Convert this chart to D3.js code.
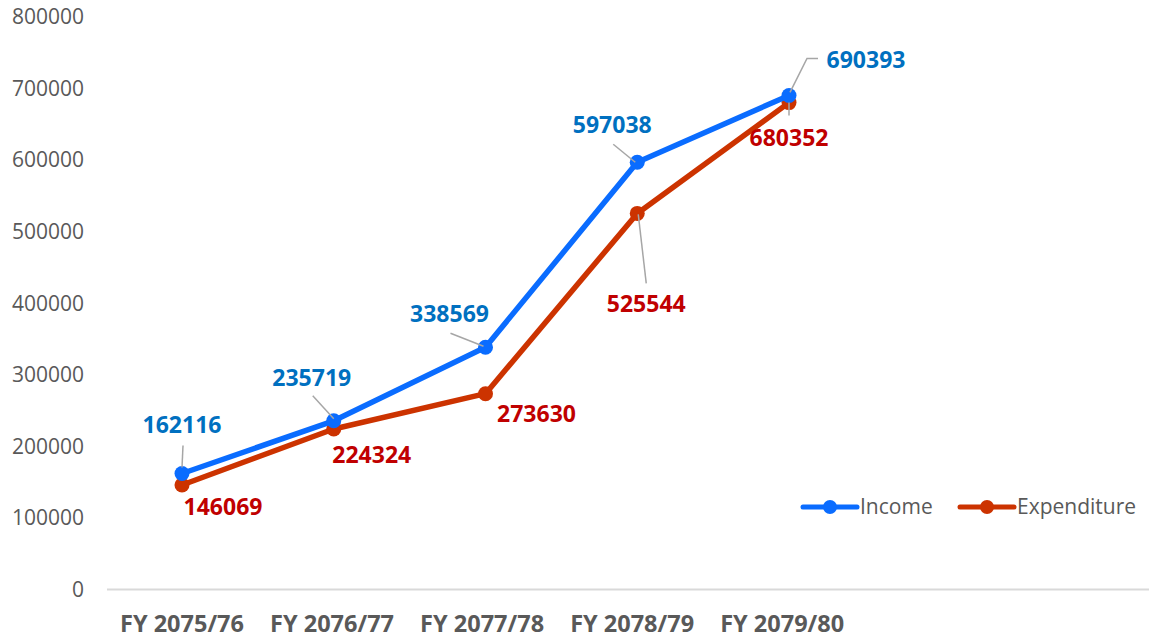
<!DOCTYPE html>
<html>
<head>
<meta charset="utf-8">
<script src="https://cdn.jsdelivr.net/npm/d3@7"></script>
<style>
  body { margin: 0; background: #fff; }
  svg { display: block; font-family: "Open Sans", sans-serif; }
</style>
</head>
<body>
<svg id="chart" width="1149" height="641"></svg>
<script>
// data
const years = ["FY 2075/76", "FY 2076/77", "FY 2077/78", "FY 2078/79", "FY 2079/80"];
const income = [162116, 235719, 338569, 597038, 690393];
const expenditure = [146069, 224324, 273630, 525544, 680352];
const yTicks = [0, 100000, 200000, 300000, 400000, 500000, 600000, 700000, 800000];

// where each value label sits, relative to its point (dx, dy of text centre)
const incomeLabelPos = [[0, -49], [-22, -43], [-36, -33], [-25, -37], [77, -35]];
const expLabelPos = [[41, 22], [38, 26], [51, 20], [9, 91], [0, 35]];
// leader lines, relative to the point (null = none)
const incomeLeaders = [[[1, -28], [0, -6]], [[-21, -25], [0, -2]], [[-35, -14], [-2, -1]], [[-24, -18], [-2, 0]], [[29, -37], [18, -37], [1, -3]]];
const expLeaders = [null, null, null, [[1, 1], [9, 70]], [[0, 0], [0, 13]]];

const svg = d3.select('#chart');

const x = d3.scalePoint()
    .domain(years)
    .range([182, 789]);

const y = d3.scaleLinear()
    .domain([0, 800000])
    .range([589.5, 17]);

// baseline
svg.append('line')
    .attr('x1', 107).attr('x2', 1149)
    .attr('y1', y(0)).attr('y2', y(0))
    .attr('stroke', '#d9d9d9')
    .attr('stroke-width', 2);

// y tick labels
svg.append('g')
    .selectAll('text')
    .data(yTicks)
    .join('text')
    .attr('x', 84)
    .attr('y', d => y(d))
    .attr('dy', '0.35em')
    .attr('text-anchor', 'end')
    .attr('font-size', 21)
    .attr('fill', '#595959')
    .text(d => d);

// x labels (excel pulls them a touch left of the points)
svg.append('g')
    .selectAll('text')
    .data(years)
    .join('text')
    .attr('x', (d, i) => x(d) - i * 1.7)
    .attr('y', 624)
    .attr('dy', '0.35em')
    .attr('text-anchor', 'middle')
    .attr('font-size', 23.5)
    .attr('font-weight', 'bold')
    .attr('fill', '#595959')
    .text(d => d);

const series = [
    { name: 'Income', values: income, line: '#0a6cff', label: '#0070c0', pos: incomeLabelPos, leaders: incomeLeaders },
    { name: 'Expenditure', values: expenditure, line: '#cc3300', label: '#c00000', pos: expLabelPos, leaders: expLeaders }
];

const line = d3.line()
    .x((d, i) => x(years[i]))
    .y(d => y(d));

// draw expenditure first so income sits above it
[series[1], series[0]].forEach(s => {
    const g = svg.append('g');
    g.append('path')
        .datum(s.values)
        .attr('d', line)
        .attr('fill', 'none')
        .attr('stroke', s.line)
        .attr('stroke-width', 5.5)
        .attr('stroke-linejoin', 'round')
        .attr('stroke-linecap', 'round');
    g.selectAll('circle')
        .data(s.values)
        .join('circle')
        .attr('cx', (d, i) => x(years[i]))
        .attr('cy', d => y(d))
        .attr('r', 7.5)
        .attr('fill', s.line);
});

// leader lines and value labels
series.forEach(s => {
    const g = svg.append('g');
    s.values.forEach((v, i) => {
        const px = x(years[i]), py = y(v);
        const ld = s.leaders[i];
        if (ld) {
            g.append('path')
                .attr('d', d3.line()(ld.map(p => [px + p[0], py + p[1]])))
                .attr('fill', 'none')
                .attr('stroke', '#a6a6a6')
                .attr('stroke-width', 1.5);
        }
        g.append('text')
            .attr('x', px + s.pos[i][0])
            .attr('y', py + s.pos[i][1])
            .attr('dy', '0.35em')
            .attr('text-anchor', 'middle')
            .attr('font-size', 23)
            .attr('font-weight', 'bold')
            .attr('fill', s.label)
            .text(v);
    });
});

// legend
const legend = svg.append('g');
const legendX = [803, 960];
series.forEach((s, i) => {
    const lx = legendX[i], ly = 507;
    legend.append('line')
        .attr('x1', lx).attr('x2', lx + 54)
        .attr('y1', ly).attr('y2', ly)
        .attr('stroke', s.line)
        .attr('stroke-width', 5)
        .attr('stroke-linecap', 'round');
    legend.append('circle')
        .attr('cx', lx + 27).attr('cy', ly)
        .attr('r', 7)
        .attr('fill', s.line);
    legend.append('text')
        .attr('x', lx + 57)
        .attr('y', ly)
        .attr('dy', '0.35em')
        .attr('font-size', 21)
        .attr('fill', '#595959')
        .text(s.name);
});
</script>
</body>
</html>
